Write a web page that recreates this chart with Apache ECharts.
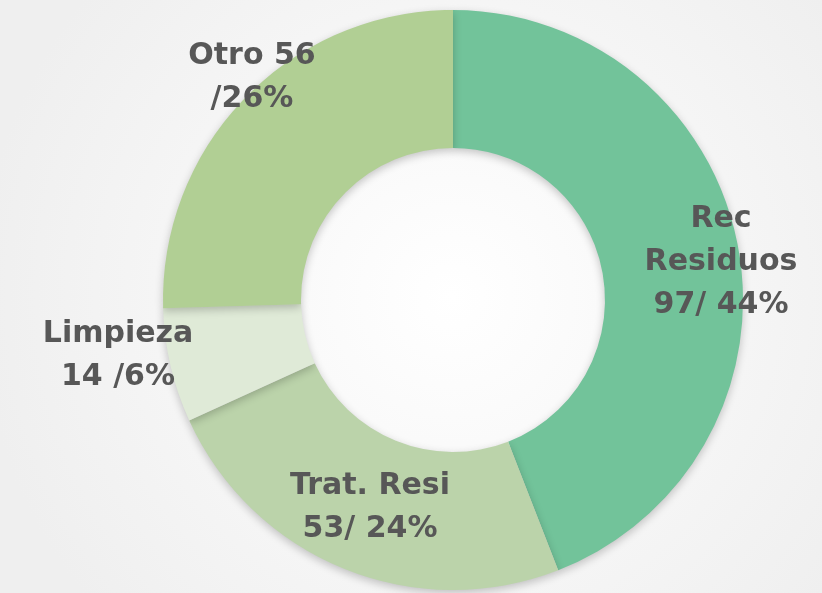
<!DOCTYPE html>
<html>
<head>
<meta charset="utf-8">
<script src="https://cdn.jsdelivr.net/npm/echarts@6/dist/echarts.min.js"></script>
<style>
  html, body { margin: 0; padding: 0; }
  #chart { width: 822px; height: 593px; }
</style>
</head>
<body>
<div id="chart"></div>
<script>
// slices, clockwise from 12 o'clock
var names = ['Rec Residuos', 'Trat. Resi', 'Limpieza', 'Otro'];
var values = [97, 53, 14, 56];
var labels = ['Rec\nResiduos\n97/ 44%', 'Trat. Resi\n53/ 24%', 'Limpieza\n14 /6%', 'Otro 56\n/26%'];
var colors = ['#72c39a', '#bbd3aa', '#dfeAd7', '#b1cf94'];
// where each label sits (px)
var labelPos = [[721, 262], [370, 508], [118, 356], [252, 78]];

var myChart = echarts.init(document.getElementById('chart'));

myChart.setOption({
  backgroundColor: {
    type: 'radial', x: 0.55, y: 0.5, r: 0.8,
    colorStops: [
      { offset: 0, color: '#ffffff' },
      { offset: 1, color: '#efefef' }
    ]
  },
  series: [{
    type: 'pie',
    center: [453, 300],
    radius: [152, 290],
    startAngle: 90,
    clockwise: true,
    silent: true,
    itemStyle: {
      shadowBlur: 8,
      shadowOffsetY: 3,
      shadowColor: 'rgba(0,0,0,0.22)'
    },
    label: {
      show: true,
      position: 'inside',
      color: '#575757',
      fontFamily: 'DejaVu Sans',
      fontWeight: 'bold',
      fontSize: 30,
      lineHeight: 43,
      align: 'center',
      formatter: function (p) { return labels[p.dataIndex]; }
    },
    labelLine: { show: false },
    labelLayout: function (p) {
      return {
        x: labelPos[p.dataIndex][0],
        y: labelPos[p.dataIndex][1],
        align: 'center',
        verticalAlign: 'middle'
      };
    },
    data: names.map(function (n, i) {
      return { name: n, value: values[i], itemStyle: { color: colors[i] } };
    })
  }]
});
</script>
</body>
</html>
